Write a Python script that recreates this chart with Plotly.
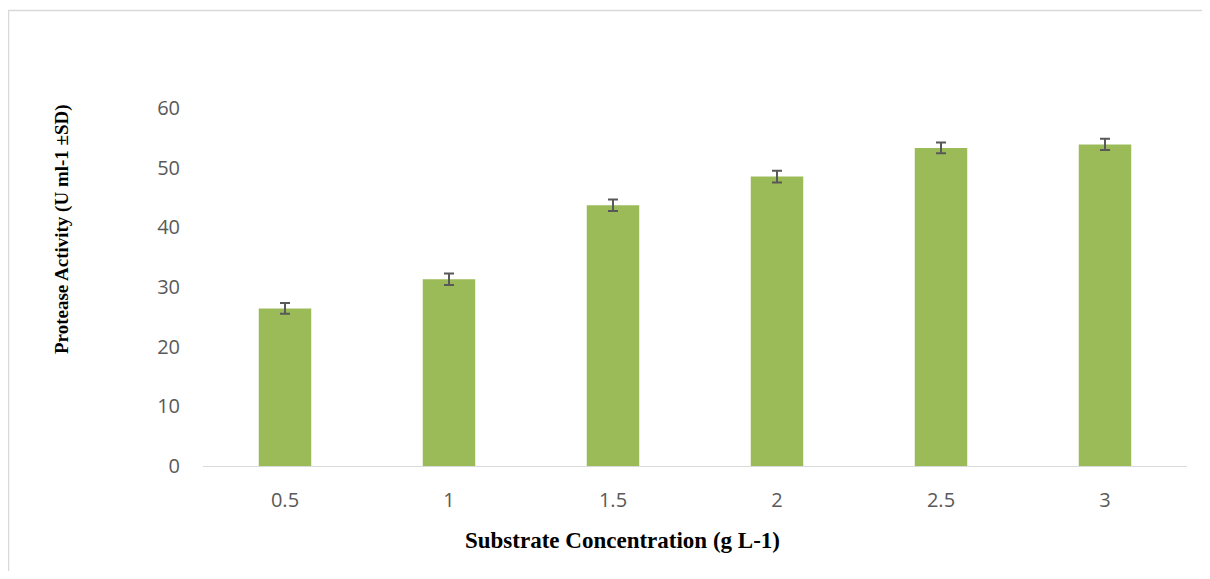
import plotly.graph_objects as go

categories = ["0.5", "1", "1.5", "2", "2.5", "3"]
activity = [26.4, 31.3, 43.7, 48.5, 53.3, 53.9]
sd = [0.9, 0.95, 0.95, 1.0, 0.9, 0.95]
y_ticks = [0, 10, 20, 30, 40, 50, 60]

OFF = 8  # page body margin
W, H = 1210 - 2 * OFF, 579 - 2 * OFF
L = 203 - OFF
T = 108 - OFF
R = W - (1187 - OFF)
B = H - (466 - OFF)
pw = W - L - R
ph = H - T - B

def px_to_paper_x(px):
    return (px - OFF - L) / pw

def px_to_paper_y(py):
    return (H - B - (py - OFF)) / ph

bx0, bx1 = px_to_paper_x(8.5), px_to_paper_x(1215)
by0, by1 = px_to_paper_y(600), px_to_paper_y(10.5)

fig = go.Figure()
fig.add_trace(go.Bar(
    x=categories, y=activity,
    marker=dict(color="#9BBB59", line=dict(width=0)),
    width=0.32,
    error_y=dict(type="data", array=sd, visible=True, color="#595959",
                 thickness=2, width=5),
))

fig.update_layout(
    width=W, height=H,
    margin=dict(l=L, r=R, t=T, b=B),
    paper_bgcolor="white", plot_bgcolor="white",
    showlegend=False,
    font=dict(family="Open Sans, sans-serif", color="#595959", size=20),
    xaxis=dict(type="category", showline=True, linecolor="#d9d9d9", linewidth=1,
               ticks="", showgrid=False, ticklabelstandoff=16,
               tickfont=dict(size=20, color="#595959")),
    yaxis=dict(range=[0, 60], tickvals=y_ticks, showgrid=False, zeroline=False,
               showline=False, ticks="", ticklabelstandoff=22,
               tickfont=dict(size=20, color="#595959")),
    shapes=[dict(type="path", xref="paper", yref="paper",
                 path=f"M {bx0},{by0} L {bx0},{by1} L {bx1},{by1}",
                 line=dict(color="#d9d9d9", width=1.5), layer="below")],
    annotations=[
        dict(text="<b>Substrate Concentration (g L-1)</b>", xref="paper", yref="paper",
             x=px_to_paper_x(622), y=px_to_paper_y(540), showarrow=False,
             xanchor="center", yanchor="middle",
             font=dict(family="Liberation Serif, Times New Roman, serif", size=23, color="black")),
        dict(text="<b>Protease Activity (U ml-1 ±SD)</b>", xref="paper", yref="paper",
             x=px_to_paper_x(62), y=px_to_paper_y(229), showarrow=False, textangle=-90,
             xanchor="center", yanchor="middle",
             font=dict(family="Liberation Serif, Times New Roman, serif", size=19, color="black")),
    ],
)

fig.write_html("out.html")
